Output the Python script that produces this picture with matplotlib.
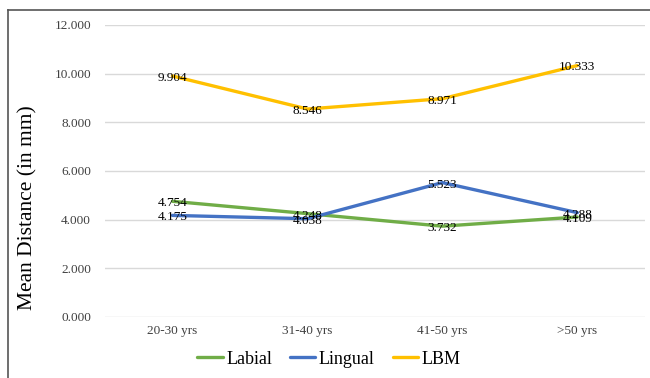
import matplotlib.pyplot as plt
from matplotlib.lines import Line2D

# Mean distance (mm) by age group
age_groups = ['20-30 yrs', '31-40 yrs', '41-50 yrs', '>50 yrs']
labial = [4.754, 4.248, 3.732, 4.109]
lingual = [4.175, 4.038, 5.523, 4.288]
lbm = [9.904, 8.546, 8.971, 10.333]

series = [('Labial', labial, '#70AD47'),
          ('Lingual', lingual, '#4472C4'),
          ('LBM', lbm, '#FFC000')]

plt.rcParams['font.family'] = ['Liberation Serif', 'DejaVu Serif']

fig = plt.figure(figsize=(6.5, 3.78), dpi=100)
ax = fig.add_axes([0.1615, 0.1614, 0.8305, 0.7725])

x = range(len(age_groups))
for name, vals, color in series:
    ax.plot(x, vals, color=color, lw=2.4, label=name, solid_capstyle='round')
    for xi, v in zip(x, vals):
        ax.text(xi, v - 0.08, f'{v:.3f}', ha='center', va='center', fontsize=9.5, color='black')

ax.set_xlim(-0.5, len(age_groups) - 0.5)
ax.set_ylim(0, 12)
ax.set_yticks(range(0, 13, 2))
ax.set_yticklabels([f'{t:.3f}' for t in range(0, 13, 2)], fontsize=9.5, color='#404040')
ax.set_xticks(list(x))
ax.set_xticklabels(age_groups, fontsize=9.5, color='#404040')
ax.tick_params(length=0, pad=10)
ax.tick_params(axis='x', pad=6)
ax.grid(axis='y', color='#D9D9D9', lw=1)
ax.set_axisbelow(True)
for s in ax.spines.values():
    s.set_visible(False)

ax.set_ylabel('Mean Distance (in mm)', fontsize=15.5)
ax.yaxis.set_label_coords(-0.125, 0.375)

ax.legend(loc='upper center', bbox_to_anchor=(0.415, -0.06), ncol=3, frameon=False,
          fontsize=13, handlelength=1.4, handletextpad=0.2, columnspacing=1.0)

# outer border (left and top edges)
fig.add_artist(Line2D([8 / 650, 8 / 650], [0, 1 - 10 / 378], transform=fig.transFigure,
                      color='#555555', lw=1.2))
fig.add_artist(Line2D([8 / 650, 1], [1 - 10 / 378, 1 - 10 / 378], transform=fig.transFigure,
                      color='#555555', lw=1.2))

fig.savefig('out.png', dpi=100, facecolor='white')
